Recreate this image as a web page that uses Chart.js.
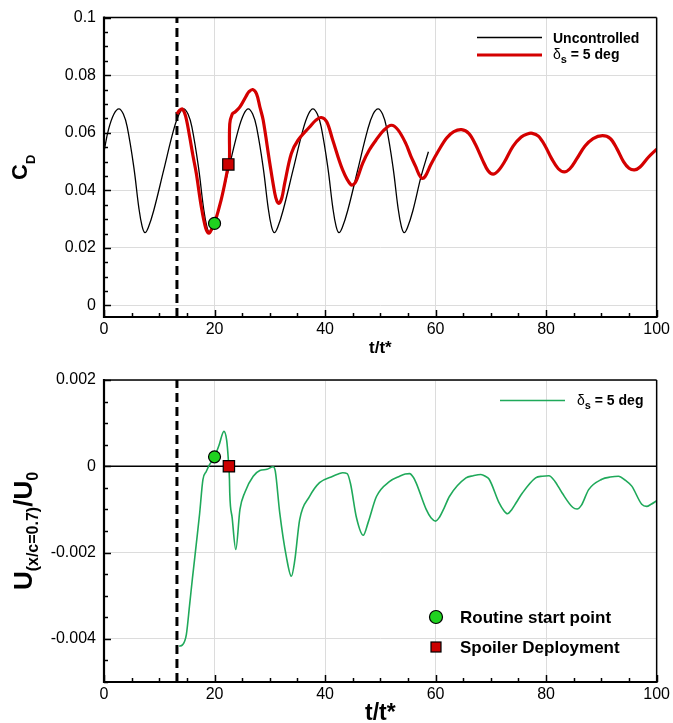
<!DOCTYPE html>
<html>
<head>
<meta charset="utf-8">
<title>Drag coefficient and velocity history</title>
<script src="https://cdn.jsdelivr.net/npm/chart.js@4.4.1/dist/chart.umd.min.js"></script>
<style>
    html, body { margin: 0; padding: 0; background: #ffffff; }
    #wrap { position: relative; width: 673px; height: 723px; }
    #wrap canvas { position: absolute; left: 0; }
</style>
</head>
<body>
<div id="wrap">
    <canvas id="cd-chart" width="673" height="360" style="top:0"></canvas>
    <canvas id="u-chart" width="673" height="363" style="top:360px"></canvas>
</div>
<script>
// Shared font and axis range
const FONT = "'Liberation Sans', Arial, Helvetica, sans-serif";
const T_MIN = 0;
const T_MAX = 100;
const ROUTINE_T = 13.2;                 // dashed marker of the routine start

// Tick labels
const T_TICKS = [0, 20, 40, 60, 80, 100];
const T_TICK_LABELS = ['0', '20', '40', '60', '80', '100'];
const CD_TICKS = [0, 0.02, 0.04, 0.06, 0.08, 0.1];
const CD_TICK_LABELS = ['0', '0.02', '0.04', '0.06', '0.08', '0.1'];
const U_TICKS = [-0.004, -0.002, 0, 0.002];
const U_TICK_LABELS = ['-0.004', '-0.002', '0', '0.002'];

// Uncontrolled drag coefficient
const UNC_T = [0, 0.8, 1.8, 2.7, 3.5, 4.2, 5.4, 6.3, 6.9, 7.4, 8.0, 9.0, 10.8, 12.6, 13.6,
    14.4, 15.2, 15.9, 17.1, 18.0, 18.6, 19.1, 19.7, 20.7, 22.5, 24.3, 25.3,
    26.1, 26.9, 27.6, 28.8, 29.7, 30.3, 30.8, 31.4, 32.4, 34.2, 36.0, 37.0,
    37.8, 38.6, 39.3, 40.5, 41.4, 42.0, 42.5, 43.1, 44.1, 45.9, 47.7, 48.7,
    49.6, 50.4, 51.1, 52.3, 53.2, 53.8, 54.3, 54.9, 55.9, 57.4, 58.7];
const UNC_CD = [0.0534, 0.061, 0.0665, 0.0683, 0.0665, 0.062, 0.048, 0.034, 0.0275, 0.0253, 0.027, 0.033, 0.047, 0.061, 0.0665,
    0.0683, 0.0665, 0.062, 0.048, 0.034, 0.0275, 0.0253, 0.027, 0.033, 0.047, 0.061, 0.0665,
    0.0683, 0.0665, 0.062, 0.048, 0.034, 0.0275, 0.0253, 0.027, 0.033, 0.047, 0.061, 0.0665,
    0.0683, 0.0665, 0.062, 0.048, 0.034, 0.0275, 0.0253, 0.027, 0.033, 0.047, 0.061, 0.0665,
    0.0683, 0.0665, 0.062, 0.048, 0.034, 0.0275, 0.0253, 0.027, 0.033, 0.045, 0.0534];

// Controlled case, spoiler at 5 deg
const SPOILER_T = [13.2, 13.7, 14.2, 14.8, 15.5, 16.1, 16.7, 17.6, 18.4, 19.0, 19.6, 20.0, 21.2, 22.1,
    22.5, 22.7, 22.75, 23.2, 23.7, 24.6, 25.8, 26.2, 26.9, 27.6, 28.2, 28.8, 30.0, 30.9, 31.3, 31.7, 32.2, 32.7,
    33.9, 35.1, 37.2, 38.3, 39.3, 40.3, 41.4, 43.2, 44.7, 45.5, 46.8, 48.0, 49.2, 50.6, 52.0, 53.2, 54.6,
    55.5, 56.4, 57.0, 57.5, 58.1, 59.1, 60.6, 62.0, 63.3, 64.7, 66.0, 67.2, 68.5, 69.5, 70.4, 71.3,
    72.5, 74.0, 75.5, 76.6, 77.5, 78.6, 79.8, 81.0, 82.2, 83.3, 84.3, 85.5, 87.0, 88.5, 90.2, 91.6,
    92.8, 94.0, 95.0, 96.0, 97.0, 98.5, 100];
const SPOILER_CD = [0.0665, 0.0678, 0.0682, 0.0655, 0.0586, 0.052, 0.0459, 0.0344, 0.0269, 0.0251, 0.027, 0.0285, 0.0367, 0.0447,
    0.049, 0.0505, 0.063, 0.0665, 0.0672, 0.069, 0.073, 0.0742, 0.075, 0.0735, 0.069, 0.0644, 0.0494, 0.039, 0.0362, 0.0355, 0.0375, 0.0425,
    0.0528, 0.0574, 0.062, 0.0643, 0.0653, 0.0638, 0.0574, 0.047, 0.0419, 0.0428, 0.0494, 0.054, 0.0574, 0.0608, 0.0626, 0.061, 0.0563,
    0.052, 0.0482, 0.0455, 0.0442, 0.0448, 0.0488, 0.054, 0.0582, 0.0604, 0.0611, 0.0598, 0.056, 0.0505, 0.0468, 0.0456, 0.0467,
    0.050, 0.0553, 0.0585, 0.0596, 0.0598, 0.0588, 0.0555, 0.051, 0.0475, 0.0464, 0.0475, 0.0508, 0.0553, 0.058, 0.059, 0.058,
    0.0545, 0.050, 0.0477, 0.0471, 0.0481, 0.0515, 0.0543];

// Streamwise velocity at x/c = 0.7, spoiler at 5 deg
const VEL_T = [13.6, 14.2, 14.9, 15.5, 16.0, 16.7, 17.3, 17.9, 18.5, 19.1, 20.0, 20.8, 21.7, 22.2,
    22.5, 22.7, 22.75, 23.2, 23.85, 24.6, 25.5, 27.0, 28.2, 29.5, 30.6, 31.0, 31.8, 33.0,
    33.9, 34.5, 35.4, 37.2, 39.0, 41.4, 42.4, 43.2, 44.0, 44.6, 45.7, 46.9, 47.8, 49.3, 51.7,
    53.5, 54.5, 55.3, 56.0, 56.5, 58.3, 59.2, 60.0, 60.7, 61.5, 62.5, 65.5, 66.8, 68.2, 69.0, 69.7,
    71.5, 72.3, 73.0, 73.8, 74.6, 75.7, 78.1, 79.3, 80.5, 81.6, 82.9, 84.8, 85.6, 86.4, 87.7,
    90.1, 91.6, 93.1, 94.3, 95.5, 97.3, 98.2, 99.0, 100];
const VEL_U = [-0.00417, -0.00414, -0.0039, -0.0032, -0.0026, -0.0018, -0.0011, -0.00031, -0.00012, 0.00004, 0.00022, 0.00048, 0.00081, 0.0006,
    0.00015, -0.0003, -0.0006, -0.0012, -0.00193, -0.001, -0.0006, -0.00023, -0.0001, -0.00007, -0.00001, -0.00012, -0.00108, -0.0021,
    -0.00255, -0.0022, -0.00124, -0.0007, -0.00038, -0.00023, -0.00018, -0.00015, -0.00017, -0.0004, -0.0012, -0.0016, -0.0013, -0.0007, -0.00035,
    -0.00023, -0.00018, -0.00017, -0.00026, -0.00039, -0.001, -0.0012, -0.00127, -0.00118, -0.00098, -0.0007, -0.00027, -0.00022, -0.00019, -0.00023, -0.0003,
    -0.00085, -0.00102, -0.0011, -0.001, -0.00084, -0.00062, -0.00027, -0.00023, -0.00022, -0.00035, -0.00062, -0.00095, -0.00099, -0.0009, -0.00054,
    -0.0003, -0.00025, -0.00023, -0.00032, -0.00046, -0.00088, -0.00093, -0.00088, -0.0008];

// Event markers: routine start point, spoiler deployment
const EVENT_T_CD = [20.0, 22.5];
const EVENT_CD = [0.0285, 0.049];
const EVENT_T_U = [20.0, 22.6];
const EVENT_U = [0.00022, 0];

// Axis ranges
const CD_RANGE = [-0.004, 0.1];
const U_RANGE = [-0.005, 0.002];

const toPoints = (xs, ys) => xs.map((x, i) => ({ x: x, y: ys[i] }));

const isMajor = (v, list) => list.some(m => Math.abs(m - v) < 1e-7);

function tickLabel(v, list, labels) {
    const i = list.findIndex(m => Math.abs(m - v) < 1e-7);
    return i >= 0 ? labels[i] : '';
}

/**
 * Draws a run of text pieces (with subscripts) starting or centred at x, y (baseline)
 */
function drawRich(ctx, parts, x, y, align, angle) {
    ctx.save();
    ctx.translate(x, y);
    if (angle) ctx.rotate(angle);
    ctx.textAlign = 'left';
    ctx.textBaseline = 'alphabetic';
    const fonts = parts.map(p => `${p.bold === false ? '' : 'bold '}${p.size}px ${p.family || FONT}`);
    const widths = parts.map((p, i) => { ctx.font = fonts[i]; return ctx.measureText(p.text).width; });
    const total = widths.reduce((s, w) => s + w, 0);
    let cx = align === 'center' ? -total / 2 : 0;
    parts.forEach((p, i) => {
        ctx.font = fonts[i];
        ctx.fillStyle = '#000';
        ctx.fillText(p.text, cx, p.dy || 0);
        cx += widths[i];
    });
    ctx.restore();
}

function strokeLine(ctx, x1, y1, x2, y2) {
    ctx.beginPath();
    ctx.moveTo(x1, y1);
    ctx.lineTo(x2, y2);
    ctx.stroke();
}

// "δs = 5 deg" legend entry
function deltaLabel(size) {
    return [
        { text: 'δ', size: size, bold: false },
        { text: 's', size: size - 3, dy: 4 },
        { text: ' = 5 deg', size: size }
    ];
}

/**
 * Frame around the plot area and inward ticks on the left and bottom axes
 */
const framePlugin = {
    id: 'frame',
    afterDatasetsDraw(chart, args, opts) {
        const { ctx, chartArea: a, scales } = chart;
        ctx.save();
        ctx.strokeStyle = '#000';
        ctx.lineWidth = 1.5;
        scales.x.ticks.forEach(t => {
            const px = Math.round(scales.x.getPixelForValue(t.value)) + 0.5;
            const len = isMajor(t.value, opts.xMajor) ? 7 : 4;
            strokeLine(ctx, px, a.bottom, px, a.bottom - len);
        });
        scales.y.ticks.forEach(t => {
            const py = Math.round(scales.y.getPixelForValue(t.value)) + 0.5;
            const len = isMajor(t.value, opts.yMajor) ? 7 : 4;
            strokeLine(ctx, a.left, py, a.left + len, py);
        });
        // top and right edges thinner than the axes
        strokeLine(ctx, a.left, a.top, a.right, a.top);
        strokeLine(ctx, a.right, a.top, a.right, a.bottom);
        ctx.lineWidth = 2.2;
        strokeLine(ctx, a.left, a.top - 1, a.left, a.bottom + 1);
        strokeLine(ctx, a.left - 1, a.bottom, a.right + 1, a.bottom);
        ctx.restore();
    }
};

// Titles and legend of the drag coefficient plot
const cdAnnotations = {
    id: 'cdAnnotations',
    afterDraw(chart) {
        const { ctx, chartArea: a } = chart;
        const midY = (a.top + a.bottom) / 2;
        drawRich(ctx, [{ text: 'C', size: 22 }, { text: 'D', size: 13, dy: 8 }], 27, midY, 'center', -Math.PI / 2);
        drawRich(ctx, [{ text: 't/t*', size: 17 }], (a.left + a.right) / 2, 353, 'center');

        ctx.save();
        ctx.strokeStyle = '#000';
        ctx.lineWidth = 1.3;
        strokeLine(ctx, 477, 37.5, 542, 37.5);
        ctx.strokeStyle = '#d40000';
        ctx.lineWidth = 3.2;
        strokeLine(ctx, 477, 55, 542, 55);
        ctx.restore();
        drawRich(ctx, [{ text: 'Uncontrolled', size: 14 }], 553, 42.5);
        drawRich(ctx, deltaLabel(14), 553, 59);
    }
};

// Titles and legends of the velocity plot
const uAnnotations = {
    id: 'uAnnotations',
    afterDraw(chart) {
        const { ctx, chartArea: a } = chart;
        const midY = (a.top + a.bottom) / 2;
        drawRich(ctx, [
            { text: 'U', size: 26 },
            { text: '(x/c=0.7)', size: 16, dy: 6 },
            { text: '/U', size: 26 },
            { text: '0', size: 16, dy: 6 }
        ], 32, midY, 'center', -Math.PI / 2);
        drawRich(ctx, [{ text: 't/t*', size: 23 }], (a.left + a.right) / 2, 360, 'center');

        ctx.save();
        ctx.strokeStyle = '#1fa95a';
        ctx.lineWidth = 1.6;
        strokeLine(ctx, 500, 40.5, 565, 40.5);

        // marker legend
        ctx.lineWidth = 1.2;
        ctx.strokeStyle = '#000';
        ctx.fillStyle = '#1fd21f';
        ctx.beginPath();
        ctx.arc(436, 257, 6.5, 0, Math.PI * 2);
        ctx.fill();
        ctx.stroke();
        ctx.fillStyle = '#cc0000';
        ctx.fillRect(431, 282, 10, 10);
        ctx.strokeRect(431, 282, 10, 10);
        ctx.restore();

        drawRich(ctx, deltaLabel(14), 577, 45);
        drawRich(ctx, [{ text: 'Routine start point', size: 17 }], 460, 263);
        drawRich(ctx, [{ text: 'Spoiler Deployment', size: 17 }], 460, 293);
    }
};

// Line dataset helper: smooth bezier by default
function lineSet(points, color, width, extra) {
    return Object.assign({
        data: points,
        borderColor: color,
        borderWidth: width,
        pointRadius: 0,
        fill: false,
        tension: 0.4
    }, extra || {});
}

function markerSet(point, style, color, radius) {
    return {
        data: [point],
        showLine: false,
        pointStyle: style,
        pointRadius: radius,
        pointBackgroundColor: color,
        pointBorderColor: '#000',
        pointBorderWidth: 1.2
    };
}

// Common scale settings
function timeScale(height) {
    return {
        type: 'linear',
        min: T_MIN,
        max: T_MAX,
        ticks: {
            stepSize: 5,
            includeBounds: false,
            autoSkip: false,
            maxRotation: 0,
            padding: 3,
            color: '#000',
            font: { family: FONT, size: 16 },
            callback: v => tickLabel(v, T_TICKS, T_TICK_LABELS)
        },
        grid: {
            drawTicks: false,
            lineWidth: 1,
            color: c => (c.tick && isMajor(c.tick.value, T_TICKS)) ? '#dcdcdc' : 'rgba(0,0,0,0)'
        },
        border: { display: false },
        afterFit: scale => { scale.height = height; }
    };
}

function valueScale(range, step, ticks, labels) {
    return {
        type: 'linear',
        min: range[0],
        max: range[1],
        ticks: {
            stepSize: step,
            includeBounds: false,
            autoSkip: false,
            padding: 8,
            color: '#000',
            font: { family: FONT, size: 16 },
            callback: v => tickLabel(v, ticks, labels)
        },
        grid: {
            drawTicks: false,
            lineWidth: 1,
            color: c => (c.tick && isMajor(c.tick.value, ticks)) ? '#dcdcdc' : 'rgba(0,0,0,0)'
        },
        border: { display: false },
        afterFit: scale => { scale.width = 104; }
    };
}

const baseOptions = {
    responsive: false,
    animation: false,
    events: [],
    plugins: { legend: { display: false }, tooltip: { enabled: false } }
};

// Drag coefficient history
new Chart(document.getElementById('cd-chart'), {
    type: 'line',
    data: {
        datasets: [
            markerSet({ x: EVENT_T_CD[0], y: EVENT_CD[0] }, 'circle', '#1fd21f', 6),
            markerSet({ x: EVENT_T_CD[1], y: EVENT_CD[1] }, 'rect', '#cc0000', 8),
            lineSet(toPoints(SPOILER_T, SPOILER_CD), '#d40000', 3.2, { tension: 0.35 }),
            lineSet(toPoints(UNC_T, UNC_CD), '#000000', 1.3),
            lineSet([{ x: ROUTINE_T, y: CD_RANGE[0] }, { x: ROUTINE_T, y: CD_RANGE[1] }], '#000000', 3,
                { borderDash: [9, 5], tension: 0 })
        ]
    },
    options: Object.assign({}, baseOptions, {
        layout: { padding: { left: 0, right: 16, top: 17, bottom: 0 } },
        plugins: Object.assign({}, baseOptions.plugins, { frame: { xMajor: T_TICKS, yMajor: CD_TICKS } }),
        scales: {
            x: timeScale(43),
            y: valueScale(CD_RANGE, 0.005, CD_TICKS, CD_TICK_LABELS)
        }
    }),
    plugins: [framePlugin, cdAnnotations]
});

// Velocity history (monotone keeps the sharp dips)
new Chart(document.getElementById('u-chart'), {
    type: 'line',
    data: {
        datasets: [
            markerSet({ x: EVENT_T_U[0], y: EVENT_U[0] }, 'circle', '#1fd21f', 6),
            markerSet({ x: EVENT_T_U[1], y: EVENT_U[1] }, 'rect', '#cc0000', 8),
            lineSet(toPoints(VEL_T, VEL_U), '#1fa95a', 1.6, { cubicInterpolationMode: 'monotone' }),
            lineSet([{ x: T_MIN, y: 0 }, { x: T_MAX, y: 0 }], '#000000', 1.5, { tension: 0 }),
            lineSet([{ x: ROUTINE_T, y: U_RANGE[0] }, { x: ROUTINE_T, y: U_RANGE[1] }], '#000000', 3,
                { borderDash: [9, 5], tension: 0 })
        ]
    },
    options: Object.assign({}, baseOptions, {
        layout: { padding: { left: 0, right: 16, top: 20, bottom: 0 } },
        plugins: Object.assign({}, baseOptions.plugins, { frame: { xMajor: T_TICKS, yMajor: U_TICKS } }),
        scales: {
            x: timeScale(41),
            y: valueScale(U_RANGE, 0.0005, U_TICKS, U_TICK_LABELS)
        }
    }),
    plugins: [framePlugin, uAnnotations]
});
</script>
</body>
</html>
